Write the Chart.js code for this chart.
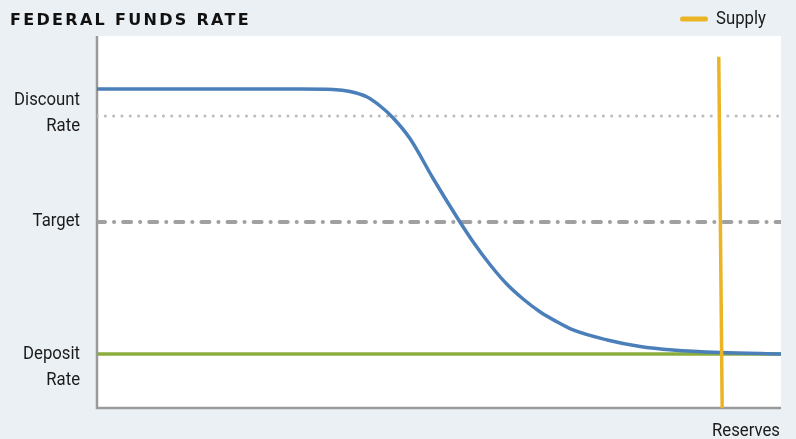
<!DOCTYPE html>
<html>
<head>
<meta charset="utf-8">
<script src="https://cdn.jsdelivr.net/npm/chart.js@4.4.1/dist/chart.umd.min.js"></script>
<style>
  body { margin: 0; background: #ebf0f4; width: 796px; height: 439px; overflow: hidden; }
  canvas { display: block; }
</style>
</head>
<body>
<canvas id="fedChart" width="796" height="439"></canvas>
<script>
// --- data (x: reserves 0-100, y: rate 0-100) ---
const demandX = [0, 29.7, 34.5, 37.0, 39.5, 41.4, 43.3, 45.8, 49.1, 52.6, 55.0, 57.5, 59.9, 62.3, 64.8, 67.3, 69.6, 74.6, 79.4, 84.2, 91.1, 100];
const demandY = [85.75, 85.75, 85.62, 85.08, 83.6, 81.18, 77.96, 72.31, 61.83, 51.34, 44.62, 38.44, 33.33, 29.3, 25.81, 23.12, 20.97, 18.28, 16.53, 15.59, 14.92, 14.52];
const supplyX = [90.9, 91.4];
const supplyY = [94.4, 0];
const discountRate = 78.5;
const targetRate = 50;
const depositRate = 14.5;
const rateLabels = [['Discount', 'Rate'], ['Target'], ['Deposit', 'Rate']];
const rateValues = [discountRate, targetRate, depositRate];
const xTitle = 'Reserves';
const chartTitle = 'FEDERAL FUNDS RATE';
const legendLabel = 'Supply';

const toPoints = (xs, ys) => xs.map((x, i) => ({ x: x, y: ys[i] }));
const flat = v => [{ x: 0, y: v }, { x: 100, y: v }];

const COLORS = {
    demand: '#4a7fb9',
    supply: '#ebb424',
    deposit: '#8aad3b',
    discount: '#bdbdbd',
    target: '#a0a0a0',
    axis: '#9a9a9a',
    text: '#1a1a1a'
};
const LABEL_FONT = '19px Roboto, "Liberation Sans", sans-serif';

// narrow-looking text: squeeze the glyphs horizontally
function condensedText(ctx, text, x, y) {
    ctx.save();
    ctx.translate(x, y);
    ctx.scale(0.88, 1);
    ctx.fillText(text, 0, 0);
    ctx.restore();
}

// background, axes and all text
const decor = {
    id: 'decor',
    beforeDatasetsDraw(chart) {
        const { ctx, chartArea: a, scales } = chart;
        ctx.save();
        ctx.fillStyle = '#ffffff';
        ctx.fillRect(a.left, a.top, a.right - a.left, a.bottom - a.top);

        ctx.strokeStyle = COLORS.axis;
        ctx.lineWidth = 2.5;
        ctx.beginPath();
        ctx.moveTo(a.left, a.top);
        ctx.lineTo(a.left, a.bottom);
        ctx.lineTo(a.right, a.bottom);
        ctx.stroke();

        // rate labels on the left
        const baseShift = [-11, 4, 5];
        ctx.fillStyle = COLORS.text;
        ctx.font = LABEL_FONT;
        ctx.textAlign = 'right';
        ctx.textBaseline = 'alphabetic';
        rateLabels.forEach((lines, i) => {
            const y0 = scales.y.getPixelForValue(rateValues[i]) + baseShift[i];
            lines.forEach((t, j) => condensedText(ctx, t, a.left - 17, y0 + j * 26));
        });

        // x axis title
        condensedText(ctx, xTitle, a.right - 1, a.bottom + 28);

        // chart title
        ctx.textAlign = 'left';
        ctx.font = 'bold 16px "DejaVu Sans", sans-serif';
        ctx.letterSpacing = '2.3px';
        ctx.fillStyle = '#111111';
        ctx.fillText(chartTitle, 10, 25);
        ctx.letterSpacing = '0px';

        // legend
        ctx.strokeStyle = COLORS.supply;
        ctx.lineWidth = 5;
        ctx.lineCap = 'round';
        ctx.beginPath();
        ctx.moveTo(682.5, 19);
        ctx.lineTo(705.5, 19);
        ctx.stroke();
        ctx.font = LABEL_FONT;
        ctx.fillStyle = COLORS.text;
        condensedText(ctx, legendLabel, 716, 24);
        ctx.restore();
    }
};

const ctx = document.getElementById('fedChart').getContext('2d');
const fedChart = new Chart(ctx, {
    type: 'line',
    data: {
        datasets: [
            {
                label: legendLabel,
                data: toPoints(supplyX, supplyY),
                borderColor: COLORS.supply,
                borderWidth: 3.5,
                order: 0
            },
            {
                label: 'Demand',
                data: toPoints(demandX, demandY),
                borderColor: COLORS.demand,
                borderWidth: 3.5,
                cubicInterpolationMode: 'monotone',
                order: 1
            },
            {
                label: 'Deposit Rate',
                data: flat(depositRate),
                borderColor: COLORS.deposit,
                borderWidth: 3.5,
                order: 2
            },
            {
                label: 'Target',
                data: flat(targetRate),
                borderColor: COLORS.target,
                borderWidth: 4,
                borderCapStyle: 'round',
                borderDash: [8, 9, 0.1, 9],
                order: 3
            },
            {
                label: 'Discount Rate',
                data: flat(discountRate),
                borderColor: COLORS.discount,
                borderWidth: 3,
                borderCapStyle: 'round',
                borderDash: [0.1, 8.2],
                order: 4
            }
        ]
    },
    options: {
        responsive: false,
        animation: false,
        layout: { padding: { left: 97, top: 36, right: 15, bottom: 31 } },
        elements: { point: { radius: 0 } },
        scales: {
            x: { type: 'linear', min: 0, max: 100, display: false },
            y: { type: 'linear', min: 0, max: 100, display: false }
        },
        plugins: {
            legend: { display: false },
            tooltip: { enabled: false }
        }
    },
    plugins: [decor]
});
</script>
</body>
</html>
